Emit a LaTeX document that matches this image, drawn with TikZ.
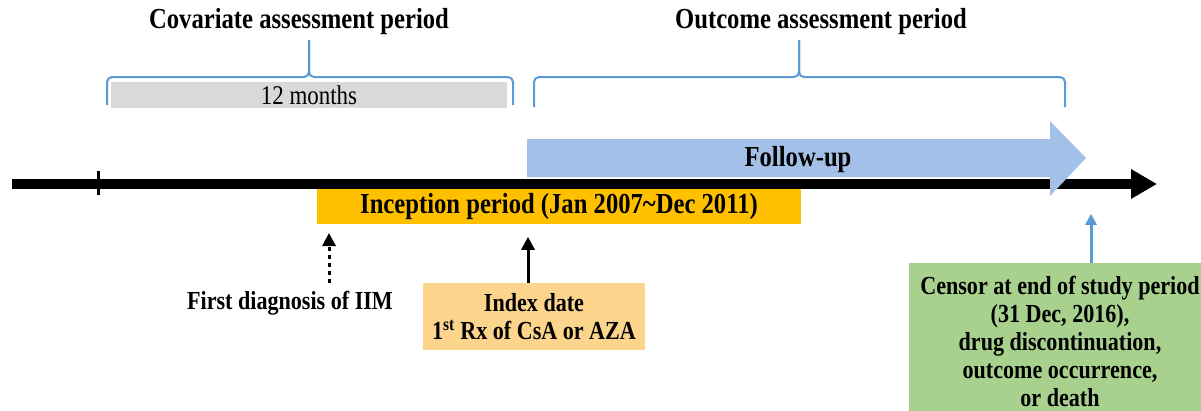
\documentclass[tikz,border=0pt]{standalone}
\usepackage{fontspec}
\setmainfont{Liberation Serif}[FakeStretch=0.85]
\usetikzlibrary{positioning}
\usetikzlibrary{arrows.meta}
\definecolor{bracecol}{HTML}{5B9BD5}
\definecolor{monthsgray}{HTML}{D9D9D9}
\definecolor{followblue}{HTML}{A3C1E8}
\definecolor{inceptgold}{HTML}{FFC000}
\definecolor{indexorange}{HTML}{FCD48C}
\definecolor{censorgreen}{HTML}{A9D18E}

\begin{document}
\begin{tikzpicture}[x=1pt,y=-1pt,
  big text/.style={font=\fontsize{29}{34}\selectfont\bfseries},
  small text/.style={font=\fontsize{26}{28}\selectfont\bfseries},
  period box/.style={inner sep=0pt,align=center},
  brace line/.style={draw=bracecol,line width=2pt,rounded corners=5pt},
  up arrow/.style={line width=3pt,-{Triangle[length=13pt,width=13pt]}}]
\useasboundingbox (0,0) rectangle (1201,410);

\node[big text] (covtitle) at (299,22) {Covariate assessment period};
\node[big text] (outtitle) at (821,22) {Outcome assessment period};
\node[period box,fill=monthsgray,minimum width=396pt,minimum height=26pt,font=\fontsize{27}{30}\selectfont] (months) at (309,95) {12 months};

\draw[brace line] (107,105) -- (107,77) -- (309,77) -- (309,40);
\draw[brace line] (309,40) -- (309,77) -- (513,77) -- (513,105);
\draw[brace line] (534,107) -- (534,77) -- (799,77) -- (799,40);
\draw[brace line] (799,40) -- (799,77) -- (1065,77) -- (1065,107);

\draw[line width=10pt,-{Triangle[length=26pt,width=28pt]}] (12,184) -- (1157,184);
\draw[line width=3pt] (98,171) -- (98,195);

\fill[followblue] (527,139) -- (1050,139) -- (1050,121) -- (1086,158) -- (1050,196) -- (1050,177) -- (527,177) -- cycle;
\node[big text] (followup) at (798,160) {Follow-up};

\node[period box,big text,fill=inceptgold,minimum width=484pt,minimum height=35pt] (inception) at (559,206.5) {Inception period (Jan 2007\textasciitilde Dec 2011)};

\node[small text,inner sep=0pt] (firstdx) at (290,303) {First diagnosis of IIM};
\node[period box,small text,fill=indexorange,minimum width=222pt,minimum height=67pt] (index) at (534,316.5) {Index date\\1\textsuperscript{st} Rx of CsA or AZA};
\node[period box,small text,fill=censorgreen,minimum width=302pt,minimum height=157pt] (censor) at (1060,341.5) {Censor at end of study period\\(31 Dec, 2016),\\drug discontinuation,\\outcome occurrence,\\or death};

\coordinate (dxstart) at (329,283);
\coordinate (dxend) at (329,233);
\draw[up arrow,dash pattern=on 4pt off 4pt] (dxstart) -- (dxend);
\draw[up arrow] ([xshift=-6pt]index.north) -- ++(0,-46);
\draw[up arrow,bracecol,-{Triangle[length=11pt,width=11pt]}] ([xshift=31pt]censor.north) -- ++(0,-49);
\end{tikzpicture}
\end{document}
